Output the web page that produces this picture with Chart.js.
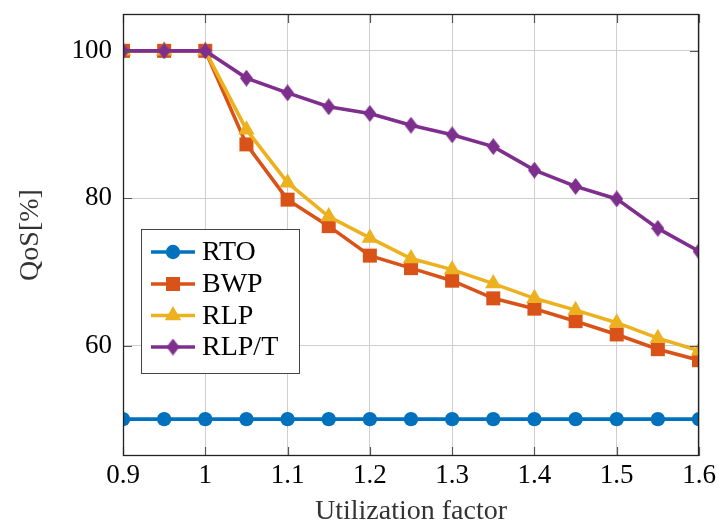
<!DOCTYPE html>
<html>
<head>
<meta charset="utf-8">
<script src="https://cdn.jsdelivr.net/npm/chart.js@4"></script>
<style>
  html, body { margin: 0; padding: 0; background: #ffffff; }
  #wrap { width: 718px; height: 527px; }
</style>
</head>
<body>
<div id="wrap"><canvas id="c" width="718" height="527"></canvas></div>
<script>
// ---- data ----
const xValues = [0.9, 0.95, 1.0, 1.05, 1.1, 1.15, 1.2, 1.25, 1.3, 1.35, 1.4, 1.45, 1.5, 1.55, 1.6];
const rto  = [50, 50, 50, 50, 50, 50, 50, 50, 50, 50, 50, 50, 50, 50, 50];
const bwp  = [100, 100, 100, 87.3, 79.8, 76.2, 72.2, 70.5, 68.8, 66.4, 65.0, 63.3, 61.5, 59.5, 58.0];
const rlp  = [100, 100, 100, 89.3, 82.1, 77.5, 74.6, 71.8, 70.3, 68.4, 66.4, 64.8, 63.1, 61.0, 59.3];
const rlpt = [100, 100, 100, 96.3, 94.3, 92.4, 91.5, 89.9, 88.6, 87.0, 83.8, 81.6, 79.9, 75.9, 72.8];
const seriesNames = ['RTO', 'BWP', 'RLP', 'RLP/T'];
const xTicks = [0.9, 1.0, 1.1, 1.2, 1.3, 1.4, 1.5, 1.6];
const xTickLabels = ['0.9', '1', '1.1', '1.2', '1.3', '1.4', '1.5', '1.6'];
const yTicks = [60, 80, 100];
const yTickLabels = ['60', '80', '100'];

const FONT = "'Liberation Serif', 'Times New Roman', serif";
const colors = { rto: '#0072BD', bwp: '#D95319', rlp: '#EDB120', rlpt: '#7E2F8E' };

function pts(ys) { return xValues.map((x, i) => ({ x: x, y: ys[i] })); }

// narrow diamond marker
function makeDiamond(color, w, h) {
  const c = document.createElement('canvas');
  c.width = w; c.height = h;
  const g = c.getContext('2d');
  g.fillStyle = color;
  g.beginPath();
  g.moveTo(w / 2, 0); g.lineTo(w, h / 2); g.lineTo(w / 2, h); g.lineTo(0, h / 2);
  g.closePath(); g.fill();
  return c;
}
const diamond = makeDiamond(colors.rlpt, 13, 17);

const datasets = [
  { label: seriesNames[0], data: pts(rto), borderColor: colors.rto, backgroundColor: colors.rto,
    pointStyle: 'circle', pointRadius: 7.2, order: 3 },
  { label: seriesNames[1], data: pts(bwp), borderColor: colors.bwp, backgroundColor: colors.bwp,
    pointStyle: 'rect', pointRadius: 9.9, order: 2 },
  { label: seriesNames[2], data: pts(rlp), borderColor: colors.rlp, backgroundColor: colors.rlp,
    pointStyle: 'triangle', pointRadius: 9.5, order: 1 },
  { label: seriesNames[3], data: pts(rlpt), borderColor: colors.rlpt, backgroundColor: colors.rlpt,
    pointStyle: diamond, pointRadius: 8, order: 0 }
];
datasets.forEach(d => { d.borderWidth = 3.6; d.pointBorderWidth = 0; d.tension = 0; d.fill = false; });

const frame = {
  id: 'frame',
  afterDatasetsDraw(chart) {
    const { ctx, chartArea: a, scales } = chart;
    ctx.save();
    ctx.strokeStyle = '#555555';
    ctx.lineWidth = 1.2;
    const tl = 9;
    xTicks.forEach(v => {
      const x = Math.round(scales.x.getPixelForValue(v)) + 0.5;
      ctx.beginPath();
      ctx.moveTo(x, a.bottom); ctx.lineTo(x, a.bottom - tl);
      ctx.moveTo(x, a.top); ctx.lineTo(x, a.top + tl);
      ctx.stroke();
    });
    yTicks.forEach(v => {
      const y = Math.round(scales.y.getPixelForValue(v)) + 0.5;
      ctx.beginPath();
      ctx.moveTo(a.left, y); ctx.lineTo(a.left + tl, y);
      ctx.moveTo(a.right, y); ctx.lineTo(a.right - tl, y);
      ctx.stroke();
    });
    ctx.restore();
  },
  afterDraw(chart) {
    const { ctx, chartArea: a } = chart;
    ctx.save();
    ctx.strokeStyle = '#222222';
    ctx.lineWidth = 1.3;
    ctx.strokeRect(Math.round(a.left) + 0.5, Math.round(a.top) + 0.5,
                   Math.round(a.right - a.left) - 1, Math.round(a.bottom - a.top) - 1);
    // legend
    const bx = 141, by = 229, bw = 158, bh = 144;
    ctx.fillStyle = '#ffffff';
    ctx.fillRect(bx, by, bw, bh);
    ctx.strokeStyle = '#444444';
    ctx.lineWidth = 1;
    ctx.strokeRect(bx + 0.5, by + 0.5, bw, bh);
    const rows = [252, 284, 315.5, 347];
    chart.data.datasets.forEach((ds, i) => {
      const y = rows[i];
      ctx.strokeStyle = ds.borderColor;
      ctx.lineWidth = 3.6;
      ctx.beginPath(); ctx.moveTo(151, y); ctx.lineTo(195, y); ctx.stroke();
      ctx.fillStyle = ds.backgroundColor;
      ctx.strokeStyle = ds.borderColor;
      Chart.helpers.drawPoint(ctx, {
        pointStyle: ds.pointStyle, rotation: 0, radius: ds.pointRadius,
        borderWidth: 0
      }, 173, y);
      ctx.fillStyle = '#000000';
      ctx.font = '28px ' + FONT;
      ctx.textBaseline = 'middle';
      ctx.textAlign = 'left';
      ctx.fillText(ds.label, 202, y + 1);
    });
    ctx.restore();
  }
};

new Chart(document.getElementById('c'), {
  type: 'line',
  data: { datasets: datasets },
  options: {
    responsive: false,
    animation: false,
    events: [],
    layout: { padding: { left: 0, right: 19, top: 14, bottom: 0 } },
    plugins: { legend: { display: false }, tooltip: { enabled: false } },
    scales: {
      x: {
        type: 'linear', min: 0.9, max: 1.6,
        afterBuildTicks(s) { s.ticks = xTicks.map(v => ({ value: v })); },
        afterFit(s) { s.height = 71; s.paddingLeft = 0; s.paddingRight = 0; },
        ticks: {
          autoSkip: false, maxRotation: 0, padding: 4, color: '#000000',
          font: { family: FONT, size: 27 },
          callback: (v) => { const i = xTicks.findIndex(t => Math.abs(t - v) < 1e-9); return i >= 0 ? xTickLabels[i] : ''; }
        },
        grid: { color: '#cfcfcf', lineWidth: 1, drawTicks: false },
        border: { display: false },
        title: { display: true, text: 'Utilization factor', color: '#333333',
          font: { family: FONT, size: 28, lineHeight: 1 }, padding: { top: 0, bottom: 1 } }
      },
      y: {
        type: 'linear', min: 45, max: 105,
        afterBuildTicks(s) { s.ticks = yTicks.map(v => ({ value: v })); },
        afterFit(s) { s.width = 123; s.paddingTop = 0; s.paddingBottom = 0; },
        ticks: {
          padding: 11, color: '#000000',
          font: { family: FONT, size: 27 },
          callback: (v) => { const i = yTicks.indexOf(v); return i >= 0 ? yTickLabels[i] : ''; }
        },
        grid: { color: '#cfcfcf', lineWidth: 1, drawTicks: false },
        border: { display: false },
        title: { display: true, text: 'QoS[%]', color: '#333333',
          font: { family: FONT, size: 28, lineHeight: 1 }, padding: { top: 17, bottom: 0 } }
      }
    }
  },
  plugins: [frame]
});
</script>
</body>
</html>
